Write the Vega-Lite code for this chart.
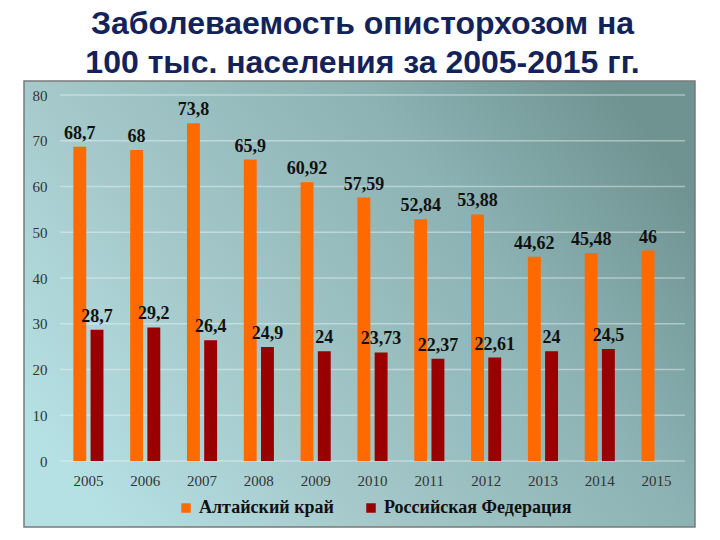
{
  "$schema": "https://vega.github.io/schema/vega-lite/v6.json",
  "width": 625,
  "height": 366,
  "autosize": {"type": "none"},
  "padding": {"left": 60, "top": 95, "right": 35, "bottom": 79},
  "background": "white",
  "title": {
    "text": ["Заболеваемость описторхозом на", "100 тыс. населения за 2005-2015 гг."],
    "font": "Liberation Sans",
    "fontSize": 32,
    "fontWeight": "bold",
    "color": "#13235a",
    "lineHeight": 39,
    "offset": 0,
    "dx": -10,
    "anchor": "middle"
  },
  "config": {
    "view": {"stroke": null},
    "axis": {
      "title": null, "grid": false, "domain": false, "ticks": false,
      "labelFont": "Liberation Serif", "labelFontSize": 15, "labelColor": "#333333"
    },
    "axisX": {"labelAngle": 0, "labelPadding": 12},
    "axisY": {"labelPadding": 13},
    "legend": {
      "zindex": 1, "labelFont": "Liberation Serif", "labelFontWeight": "bold", "labelFontSize": 18,
      "labelColor": "#111111", "labelLimit": 400, "labelOffset": 4, "columnPadding": 28, "padding": 0,
      "symbolType": "square", "symbolSize": 90, "symbolStrokeWidth": 0
    }
  },
  "layer": [
    {
      "data": {"values": [{}]},
      "mark": {
        "type": "rect",
        "fill": {
          "gradient": "linear",
          "x1": 0, "y1": 0.75, "x2": 1, "y2": 0.25,
          "stops": [
            {"offset": 0, "color": "#b5e0e4"},
            {"offset": 0.3, "color": "#a6cacc"},
            {"offset": 0.7, "color": "#8cb2b4"},
            {"offset": 1, "color": "#6f9391"}
          ]
        },
        "stroke": "#7a7a7a",
        "strokeWidth": 1.5
      },
      "encoding": {
        "x": {"datum": -0.0576, "type": "quantitative", "scale": {"domain": [0, 1], "nice": false, "zero": false}, "axis": null},
        "x2": {"datum": 1.016},
        "y": {"datum": -0.18033, "type": "quantitative", "scale": {"domain": [0, 1], "nice": false, "zero": false}, "axis": null},
        "y2": {"datum": 1.03825}
      }
    },
    {
      "data": {
        "values": [
          {"year": "2005", "series": "Алтайский край", "value": 68.7, "label": "68,7"},
          {"year": "2006", "series": "Алтайский край", "value": 68, "label": "68"},
          {"year": "2007", "series": "Алтайский край", "value": 73.8, "label": "73,8"},
          {"year": "2008", "series": "Алтайский край", "value": 65.9, "label": "65,9"},
          {"year": "2009", "series": "Алтайский край", "value": 60.92, "label": "60,92"},
          {"year": "2010", "series": "Алтайский край", "value": 57.59, "label": "57,59"},
          {"year": "2011", "series": "Алтайский край", "value": 52.84, "label": "52,84"},
          {"year": "2012", "series": "Алтайский край", "value": 53.88, "label": "53,88"},
          {"year": "2013", "series": "Алтайский край", "value": 44.62, "label": "44,62"},
          {"year": "2014", "series": "Алтайский край", "value": 45.48, "label": "45,48"},
          {"year": "2015", "series": "Алтайский край", "value": 46, "label": "46"},
          {"year": "2005", "series": "Российская Федерация", "value": 28.7, "label": "28,7"},
          {"year": "2006", "series": "Российская Федерация", "value": 29.2, "label": "29,2"},
          {"year": "2007", "series": "Российская Федерация", "value": 26.4, "label": "26,4"},
          {"year": "2008", "series": "Российская Федерация", "value": 24.9, "label": "24,9"},
          {"year": "2009", "series": "Российская Федерация", "value": 24, "label": "24"},
          {"year": "2010", "series": "Российская Федерация", "value": 23.73, "label": "23,73"},
          {"year": "2011", "series": "Российская Федерация", "value": 22.37, "label": "22,37"},
          {"year": "2012", "series": "Российская Федерация", "value": 22.61, "label": "22,61"},
          {"year": "2013", "series": "Российская Федерация", "value": 24, "label": "24"},
          {"year": "2014", "series": "Российская Федерация", "value": 24.5, "label": "24,5"}
        ]
      },
      "layer": [
        {
          "data": {"values": [{"v": 0}, {"v": 10}, {"v": 20}, {"v": 30}, {"v": 40}, {"v": 50}, {"v": 60}, {"v": 70}, {"v": 80}]},
          "mark": {"type": "rule", "color": "#eef7f7", "strokeWidth": 1.5, "opacity": 0.45},
          "encoding": {
            "y": {"field": "v", "type": "quantitative", "scale": {"domain": [0, 80], "nice": false},
                  "axis": {"zindex": 1, "values": [0, 10, 20, 30, 40, 50, 60, 70, 80], "labelFont": "Liberation Serif", "labelFontSize": 15, "labelColor": "#333333", "labelPadding": 13, "title": null, "domain": false, "ticks": false, "grid": false}}
          }
        },
        {
          "mark": {"type": "bar"},
          "encoding": {
            "x": {
              "field": "year", "type": "nominal",
              "scale": {"paddingInner": 0.47, "paddingOuter": 0.235},
              "axis": {"zindex": 1, "labelAngle": 0, "labelFont": "Liberation Serif", "labelFontSize": 15, "labelColor": "#333333", "labelPadding": 12, "title": null, "domain": false, "ticks": false, "grid": false}
            },
            "xOffset": {"field": "series", "type": "nominal", "scale": {"domain": ["Алтайский край", "Российская Федерация"], "paddingInner": 0.25, "paddingOuter": 0}},
            "y": {
              "field": "value", "type": "quantitative",
              "scale": {"domain": [0, 80], "nice": false},
              "axis": {"zindex": 1, "values": [0, 10, 20, 30, 40, 50, 60, 70, 80], "labelFont": "Liberation Serif", "labelFontSize": 15, "labelColor": "#333333", "labelPadding": 13, "title": null, "domain": false, "ticks": false, "grid": false}
            },
            "color": {
              "field": "series", "type": "nominal",
              "scale": {"domain": ["Алтайский край", "Российская Федерация"], "range": ["#ff6a00", "#990000"]},
              "legend": {
                "title": null, "orient": "none", "direction": "horizontal",
                "legendX": 117, "legendY": 404
              }
            }
          }
        },
        {
          "mark": {"type": "text", "font": "Liberation Serif", "fontWeight": "bold", "fontSize": 18, "baseline": "alphabetic", "dy": -8, "color": "#111111"},
          "encoding": {
            "x": {"field": "year", "type": "nominal", "axis": {"zindex": 1, "labelAngle": 0, "labelFont": "Liberation Serif", "labelFontSize": 15, "labelColor": "#333333", "labelPadding": 12, "title": null, "domain": false, "ticks": false, "grid": false}},
            "xOffset": {"field": "series", "type": "nominal"},
            "y": {"field": "value", "type": "quantitative", "axis": {"zindex": 1, "values": [0, 10, 20, 30, 40, 50, 60, 70, 80], "labelFont": "Liberation Serif", "labelFontSize": 15, "labelColor": "#333333", "labelPadding": 13, "title": null, "domain": false, "ticks": false, "grid": false}},
            "text": {"field": "label", "type": "nominal"}
          }
        }
      ]
    }
  ],
  "resolve": {"scale": {"x": "independent", "y": "independent"}}
}
